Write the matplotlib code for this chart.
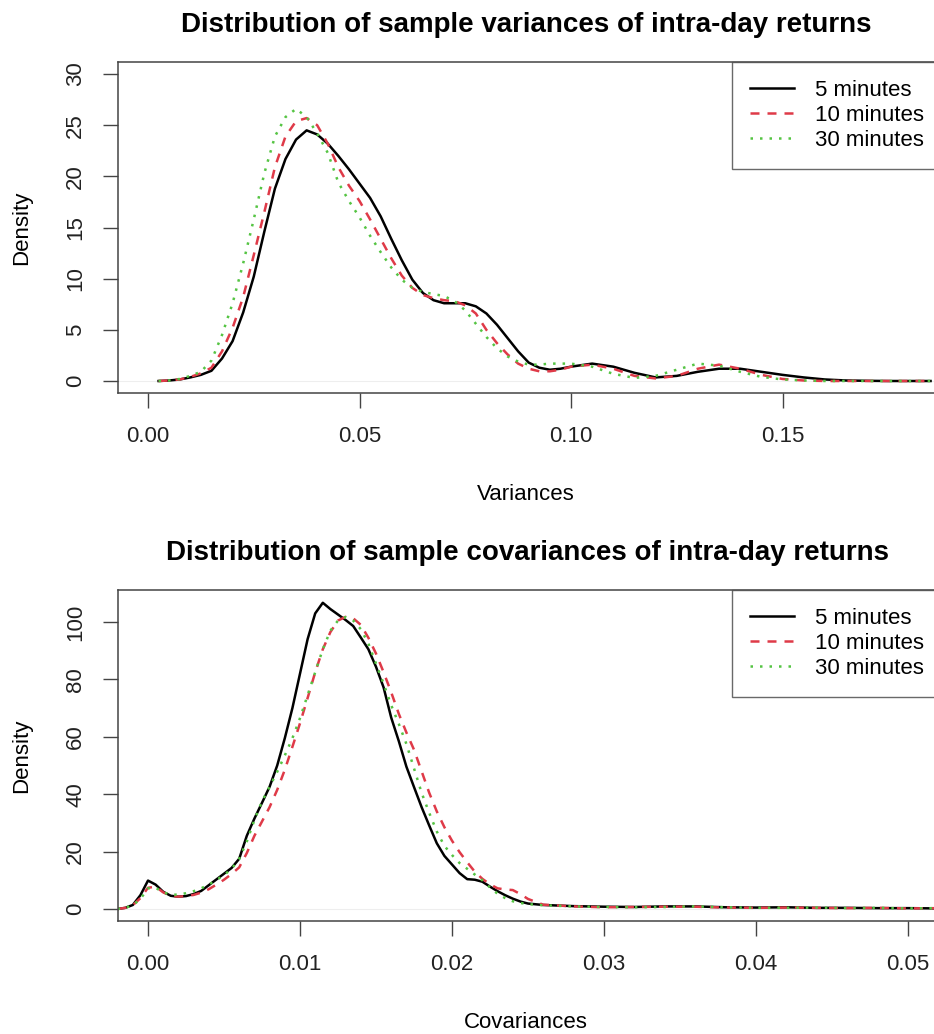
import numpy as np
import matplotlib
matplotlib.use("Agg")
import matplotlib.pyplot as plt

plt.rcParams['font.family'] = ['Liberation Sans', 'DejaVu Sans']

# density of sample variances
var_x = [0.0025, 0.005, 0.0075, 0.010, 0.0125, 0.015, 0.0175, 0.020, 0.0225, 0.025,
         0.0275, 0.030, 0.0325, 0.035, 0.0375, 0.040, 0.0425, 0.045, 0.0475, 0.050,
         0.0525, 0.055, 0.0575, 0.060, 0.0625, 0.065, 0.0675, 0.070, 0.0725, 0.075,
         0.0775, 0.080, 0.0825, 0.085, 0.0875, 0.090, 0.0925, 0.095, 0.0975, 0.100,
         0.105, 0.110, 0.115, 0.120, 0.125, 0.130, 0.135, 0.140, 0.145, 0.150,
         0.155, 0.160, 0.165, 0.170, 0.175, 0.180, 0.185]
var_5 = [0.0, 0.05, 0.15, 0.35, 0.6, 1.0, 2.2, 3.9, 6.7, 10.2,
         14.6, 18.8, 21.7, 23.6, 24.5, 24.1, 23.2, 22.0, 20.7, 19.3,
         17.9, 16.1, 13.9, 11.8, 9.9, 8.6, 7.9, 7.6, 7.6, 7.6,
         7.3, 6.6, 5.5, 4.2, 2.9, 1.8, 1.3, 1.1, 1.2, 1.4,
         1.7, 1.4, 0.8, 0.35, 0.5, 0.9, 1.2, 1.2, 0.9, 0.6,
         0.35, 0.15, 0.05, 0.02, 0.0, 0.0, 0.0]
var_10 = [0.0, 0.05, 0.15, 0.4, 0.75, 1.3, 2.9, 5.2, 8.2, 12.3,
          16.5, 20.9, 23.9, 25.4, 25.7, 25.0, 23.2, 20.9, 19.1, 17.6,
          15.8, 13.9, 12.0, 10.3, 9.1, 8.4, 8.1, 7.9, 7.8, 7.4,
          6.6, 5.0, 3.7, 2.6, 1.7, 1.2, 0.95, 0.95, 1.1, 1.4,
          1.6, 1.2, 0.5, 0.25, 0.5, 1.2, 1.6, 1.2, 0.6, 0.2,
          0.05, 0.0, 0.0, 0.0, 0.0, 0.0, 0.0]
var_30 = [0.0, 0.05, 0.2, 0.5, 0.9, 2.0, 4.5, 7.6, 11.5, 15.8,
          20.3, 23.9, 25.8, 26.6, 25.8, 24.2, 22.3, 19.4, 17.6, 16.0,
          14.2, 12.6, 11.1, 9.9, 9.1, 8.7, 8.5, 8.3, 7.8, 6.9,
          5.6, 4.3, 3.2, 2.4, 1.9, 1.6, 1.6, 1.7, 1.7, 1.7,
          1.4, 0.7, 0.3, 0.5, 1.1, 1.7, 1.5, 0.9, 0.4, 0.15,
          0.05, 0.0, 0.0, 0.0, 0.0, 0.0, 0.0]

# density of sample covariances
cov_x = [-0.002, -0.0015, -0.001, -0.0005, 0.0, 0.0005, 0.001, 0.0015, 0.002, 0.0025,
         0.003, 0.0035, 0.004, 0.0045, 0.005, 0.0055, 0.006, 0.0065, 0.007, 0.0075,
         0.008, 0.0085, 0.009, 0.0095, 0.010, 0.0105, 0.011, 0.0115, 0.012, 0.0125,
         0.013, 0.0135, 0.014, 0.0145, 0.015, 0.0155, 0.016, 0.0165, 0.017, 0.0175,
         0.018, 0.0185, 0.019, 0.0195, 0.020, 0.0205, 0.021, 0.0215, 0.022, 0.0225,
         0.023, 0.0235, 0.024, 0.0245, 0.025,
         0.026, 0.028, 0.030, 0.032, 0.034, 0.036, 0.038, 0.040, 0.042, 0.044,
         0.046, 0.048, 0.050, 0.052]
cov_5 = [0.0, 0.4, 1.4, 4.8, 9.9, 8.5, 6.0, 4.6, 4.3, 4.5,
         5.2, 6.3, 8.3, 10.3, 12.3, 14.3, 17.5, 25.5, 31.5, 37.0,
         42.6, 50.0, 59.5, 70.0, 82.0, 94.0, 103.0, 106.7, 104.5, 102.6,
         100.7, 98.6, 94.6, 90.5, 84.4, 77.2, 66.7, 58.5, 49.6, 42.5,
         35.5, 29.1, 22.9, 18.5, 15.5, 12.5, 10.4, 10.2, 9.5, 7.8,
         6.2, 4.8, 3.6, 2.6, 1.9,
         1.4, 1.0, 0.8, 0.7, 0.9, 0.9, 0.6, 0.5, 0.6, 0.4,
         0.4, 0.3, 0.3, 0.2]
cov_10 = [0.0, 0.4, 1.3, 3.8, 7.4, 7.8, 5.8, 4.6, 4.3, 4.5,
          4.9, 5.7, 6.9, 8.5, 10.2, 12.2, 14.5, 19.5, 25.5, 30.5,
          35.5, 41.5, 48.5, 56.5, 64.7, 73.5, 82.5, 90.5, 96.5, 100.5,
          101.8, 101.3, 99.0, 94.5, 89.0, 82.5, 75.5, 68.0, 61.5, 55.5,
          48.0, 40.5, 34.0, 28.5, 23.8, 19.8, 16.3, 13.0, 10.5, 8.6,
          7.2, 6.8, 6.6, 5.2, 3.5,
          1.5, 0.9, 0.6, 0.7, 0.8, 0.8, 0.5, 0.4, 0.5, 0.4,
          0.3, 0.4, 0.2, 0.3]
cov_30 = [0.0, 0.4, 1.3, 3.5, 7.2, 7.4, 5.8, 5.0, 5.0, 5.5,
          6.2, 7.2, 8.5, 10.1, 11.8, 14.0, 17.5, 23.5, 31.0, 37.5,
          42.6, 47.8, 53.5, 59.5, 66.5, 74.5, 82.5, 90.5, 97.0, 100.5,
          101.7, 100.5, 97.5, 92.5, 85.5, 78.5, 71.0, 64.5, 57.5, 49.0,
          40.5, 33.5, 27.0, 22.0, 18.8, 16.0, 14.0, 12.0, 10.0, 7.5,
          5.3, 3.8, 2.7, 2.1, 1.7,
          1.3, 0.9, 0.7, 0.6, 0.7, 0.9, 0.6, 0.4, 0.4, 0.5,
          0.3, 0.4, 0.2, 0.3]

labels = ["5 minutes", "10 minutes", "30 minutes"]
colors = ["black", "#DF3A48", "#55C443"]
styles = ["-", (0, (3.6, 3.2)), (0, (1, 2.8))]

W, H = 934, 1034
fig = plt.figure(figsize=(W / 100, H / 100), dpi=100)


def px_axes(left, top, right, bottom):
    return fig.add_axes([left / W, 1 - bottom / H, (right - left) / W, (bottom - top) / H])


def style_axes(ax):
    for s in ax.spines.values():
        s.set_color("#444444")
        s.set_linewidth(1.1)
    ax.tick_params(direction="out", length=10.8, width=1.0, color="#444444",
                   labelsize=16, labelcolor="#222222")
    ax.tick_params(axis="x", pad=13)
    ax.tick_params(axis="y", pad=12)


def draw_panel(ax, x, series, xlim, ylim, xticks, xlabels, yticks):
    for y, lab, c, ls in zip(series, labels, colors, styles):
        ax.plot(x, y, color=c, linestyle=ls, linewidth=1.8, label=lab,
                dash_capstyle="butt")
    ax.axhline(0, color="#eeeeee", linewidth=0.8, zorder=0)
    ax.set_xlim(*xlim)
    ax.set_ylim(*ylim)
    ax.set_xticks(xticks)
    ax.set_xticklabels(xlabels)
    ax.set_yticks(yticks)
    ax.set_yticklabels([str(v) for v in yticks], rotation=90, va="center")
    style_axes(ax)
    leg = ax.legend(loc="upper right", bbox_to_anchor=(1.0, 1.0), borderaxespad=0,
                    fancybox=False, fontsize=16, handlelength=1.95,
                    handletextpad=0.95, labelspacing=0.18, borderpad=0.82)
    leg.get_frame().set_edgecolor("#444444")
    leg.get_frame().set_linewidth(1.0)


ax1 = px_axes(118, 62, 942, 393)
draw_panel(ax1, var_x, [var_5, var_10, var_30],
           ((118 - 148) / 4230, (942 - 148) / 4230),
           ((381 - 393) / 10.23, (381 - 62) / 10.23),
           [0.0, 0.05, 0.10, 0.15], ["0.00", "0.05", "0.10", "0.15"],
           [0, 5, 10, 15, 20, 25, 30])

ax2 = px_axes(118, 590, 942, 921)
draw_panel(ax2, cov_x, [cov_5, cov_10, cov_30],
           ((118 - 148) / 15200, (942 - 148) / 15200),
           ((909 - 921) / 2.87, (909 - 590) / 2.87),
           [0.0, 0.01, 0.02, 0.03, 0.04, 0.05],
           ["0.00", "0.01", "0.02", "0.03", "0.04", "0.05"],
           [0, 20, 40, 60, 80, 100])

fig.text(526 / W, 1 - 25 / H, "Distribution of sample variances of intra-day returns",
         ha="center", va="center", fontsize=20, fontweight="bold")
fig.text(526 / W, 1 - 494 / H, "Variances", ha="center", va="center", fontsize=16)
fig.text(22 / W, 1 - 228 / H, "Density", ha="center", va="center", fontsize=16, rotation=90)

fig.text(528 / W, 1 - 553 / H, "Distribution of sample covariances of intra-day returns",
         ha="center", va="center", fontsize=20, fontweight="bold")
fig.text(526 / W, 1 - 1022 / H, "Covariances", ha="center", va="center", fontsize=16)
fig.text(22 / W, 1 - 756 / H, "Density", ha="center", va="center", fontsize=16, rotation=90)

fig.savefig("out.png", dpi=100)
